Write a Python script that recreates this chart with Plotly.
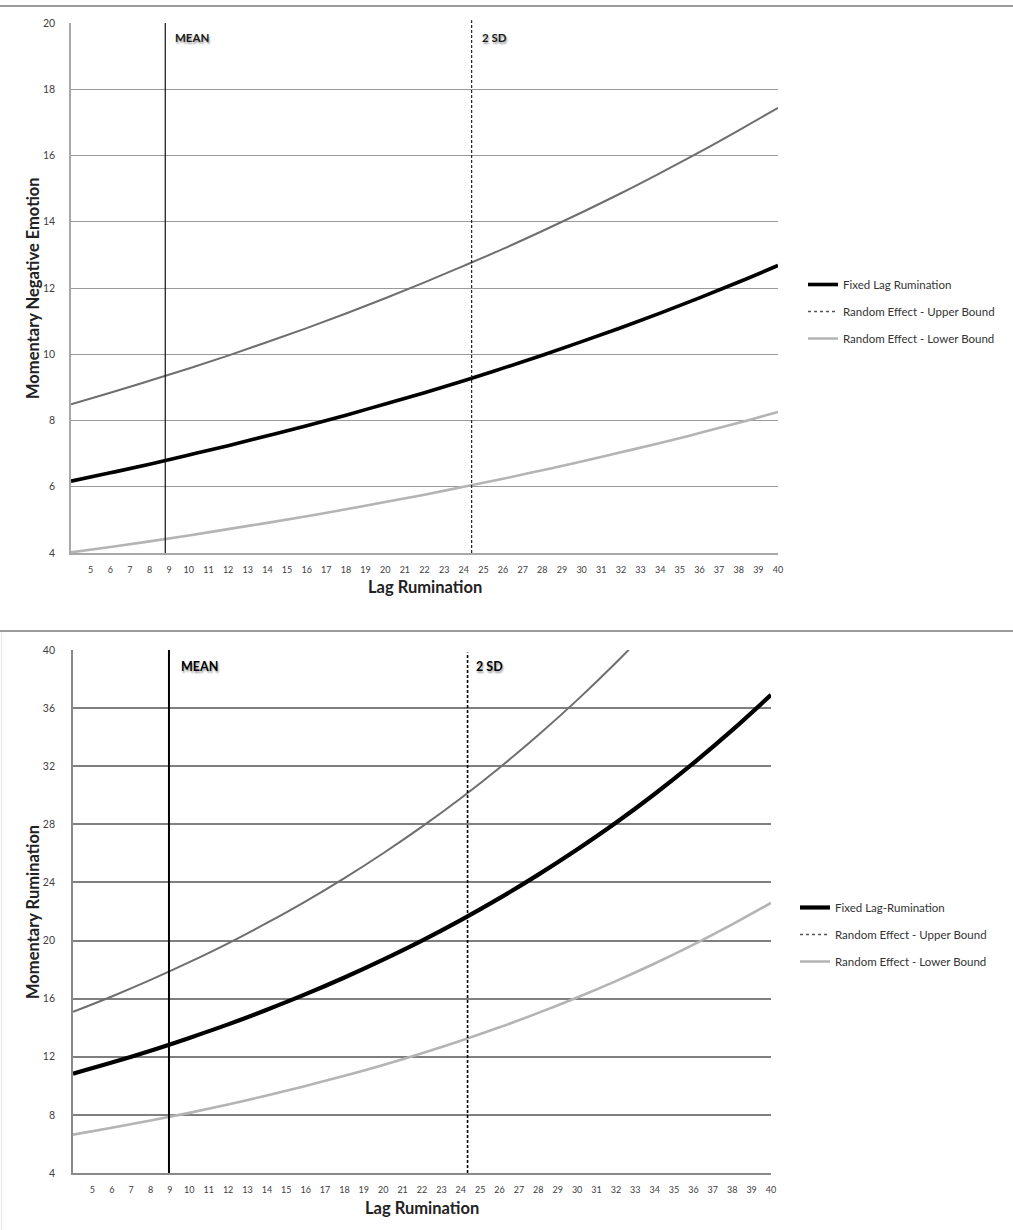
import plotly.graph_objects as go

# ---------------- data ----------------
lag_rumination = [4, 6, 8, 10, 12, 14, 16, 18, 20, 22, 24, 26, 28, 30, 32, 34, 36, 38, 40]

# Panel 1: Momentary Negative Emotion
neg_fixed = [6.17, 6.42, 6.68, 6.96, 7.24, 7.54, 7.84, 8.16, 8.50, 8.84, 9.20,
             9.58, 9.97, 10.38, 10.80, 11.24, 11.70, 12.18, 12.68]
neg_upper = [8.49, 8.84, 9.20, 9.57, 9.96, 10.37, 10.79, 11.23, 11.69, 12.17, 12.67,
             13.18, 13.72, 14.28, 14.86, 15.47, 16.10, 16.76, 17.44]
neg_lower = [4.02, 4.18, 4.35, 4.53, 4.72, 4.91, 5.11, 5.32, 5.54, 5.76, 6.00,
             6.24, 6.50, 6.76, 7.04, 7.32, 7.62, 7.93, 8.26]

# Panel 2: Momentary Rumination
rum_fixed = [10.84, 11.60, 12.42, 13.30, 14.23, 15.24, 16.31, 17.46, 18.69, 20.00, 21.41,
             22.92, 24.54, 26.27, 28.11, 30.09, 32.21, 34.48, 36.91]
rum_upper = [15.09, 16.15, 17.29, 18.51, 19.81, 21.21, 22.70, 24.30, 26.01, 27.84, 29.80,
             31.90, 34.15, 36.55, 39.12, 41.88, 44.82, 47.98, 51.36]
rum_lower = [6.64, 7.11, 7.61, 8.14, 8.72, 9.33, 9.99, 10.69, 11.44, 12.25, 13.11,
             14.03, 15.02, 16.08, 17.21, 18.42, 19.72, 21.11, 22.59]

x_tick_labels = list(range(5, 41))
y1_ticks = [4, 6, 8, 10, 12, 14, 16, 18, 20]
y2_ticks = [4, 8, 12, 16, 20, 24, 28, 32, 36, 40]

mean_x_top, sd2_x_top = 8.8, 24.4
mean_x_bot, sd2_x_bot = 8.95, 24.35

legend_names_top = ["Fixed Lag Rumination", "Random Effect - Upper Bound", "Random Effect - Lower Bound"]
legend_names_bot = ["Fixed Lag-Rumination", "Random Effect - Upper Bound", "Random Effect - Lower Bound"]

# ---------------- styling ----------------
W, H = 1013, 1230
FONT = "Lato"
BLACK = "#000000"
UPPER_C = "#6e6e6e"
LOWER_C = "#b4b4b4"
GRID_TOP = "#9a9a9a"
GRID_BOT = "#7f7f7f"

fig = go.Figure()

def add_panel(xa, ya, fixed, upper, lower, names, legend, wfixed):
    fig.add_trace(go.Scatter(x=lag_rumination, y=upper, mode="lines", xaxis=xa, yaxis=ya,
                             line=dict(color=UPPER_C, width=2, shape="spline"),
                             showlegend=False, hoverinfo="skip"))
    fig.add_trace(go.Scatter(x=lag_rumination, y=lower, mode="lines", xaxis=xa, yaxis=ya,
                             line=dict(color=LOWER_C, width=2.6, shape="spline"),
                             showlegend=False, hoverinfo="skip"))
    fig.add_trace(go.Scatter(x=lag_rumination, y=fixed, mode="lines", xaxis=xa, yaxis=ya,
                             line=dict(color=BLACK, width=wfixed, shape="spline"),
                             showlegend=False, hoverinfo="skip"))
    # legend entries
    fig.add_trace(go.Scatter(x=[None], y=[None], mode="lines", xaxis=xa, yaxis=ya, name=names[0],
                             line=dict(color=BLACK, width=wfixed), legend=legend, legendgroup=legend + "a"))
    fig.add_trace(go.Scatter(x=[None], y=[None], mode="lines", xaxis=xa, yaxis=ya, name=names[1],
                             line=dict(color="#555555", width=1.5, dash="dot"), legend=legend, legendgroup=legend + "b"))
    fig.add_trace(go.Scatter(x=[None], y=[None], mode="lines", xaxis=xa, yaxis=ya, name=names[2],
                             line=dict(color=LOWER_C, width=2.5), legend=legend, legendgroup=legend + "c"))

add_panel("x", "y", neg_fixed, neg_upper, neg_lower, legend_names_top, "legend", 3.6)
add_panel("x2", "y2", rum_fixed, rum_upper, rum_lower, legend_names_bot, "legend2", 4.2)

def px_x(p):
    return p / W

def px_y(p):
    return 1 - p / H

xaxis_common = dict(range=[4, 40], tickmode="array", tickvals=x_tick_labels,
                    ticktext=[str(v) for v in x_tick_labels], showgrid=False, zeroline=False,
                    ticks="", tickfont=dict(family=FONT, size=9, color="#404040"),
                    ticklabelstandoff=7, showline=True, mirror=False, fixedrange=True,
                    automargin=False)

legend_common = dict(xanchor="left", yanchor="top", bgcolor="rgba(0,0,0,0)",
                     font=dict(family=FONT, size=11.5, color="#333333"), tracegroupgap=8,
                     itemwidth=30)

fig.update_layout(
    width=W, height=H, margin=dict(l=0, r=0, t=0, b=0, autoexpand=False),
    paper_bgcolor="white", plot_bgcolor="white",
    font=dict(family=FONT, color="#222222"),
    xaxis=dict(**xaxis_common, domain=[px_x(71), px_x(778)], anchor="y",
               linecolor="#a8a8a8", linewidth=1.5),
    yaxis=dict(range=[4, 20], tickvals=y1_ticks, domain=[px_y(553), px_y(23)], anchor="x",
               showgrid=True, gridcolor=GRID_TOP, gridwidth=1.3, zeroline=False, ticks="",
               showline=True, linecolor="#a8a8a8", linewidth=1.5, automargin=False,
               tickfont=dict(family=FONT, size=10.5, color="#404040"), ticklabelstandoff=12),
    xaxis2=dict(**xaxis_common, domain=[px_x(73), px_x(771)], anchor="y2",
                linecolor="#8a8a8a", linewidth=1.8),
    yaxis2=dict(range=[4, 40], tickvals=y2_ticks, domain=[px_y(1173), px_y(650)], anchor="x2",
                showgrid=True, gridcolor=GRID_BOT, gridwidth=1.6, zeroline=False, ticks="",
                showline=True, linecolor="#8a8a8a", linewidth=1.8, automargin=False,
                tickfont=dict(family=FONT, size=10.5, color="#404040"), ticklabelstandoff=14),
    legend=dict(x=px_x(803), y=px_y(270), **legend_common),
    legend2=dict(x=px_x(795), y=px_y(893), **legend_common),
)

shapes = []
# separators
shapes.append(dict(type="line", xref="paper", yref="paper", x0=0, x1=1, y0=px_y(6), y1=px_y(6),
                   line=dict(color="#7a7a7a", width=1.5)))
shapes.append(dict(type="line", xref="paper", yref="paper", x0=0, x1=1, y0=px_y(631), y1=px_y(631),
                   line=dict(color="#7a7a7a", width=1.5)))
shapes.append(dict(type="line", xref="paper", yref="paper", x0=px_x(1.5), x1=px_x(1.5), y0=0, y1=px_y(632),
                   line=dict(color="#e6e6e6", width=1)))
# mean / 2 SD lines
shapes.append(dict(type="line", xref="x", yref="y domain", x0=mean_x_top, x1=mean_x_top, y0=0, y1=1,
                   line=dict(color="#111111", width=1.2)))
shapes.append(dict(type="line", xref="x", yref="y domain", x0=sd2_x_top, x1=sd2_x_top, y0=0, y1=1.005,
                   line=dict(color="#222222", width=1.2, dash="3px,2px")))
shapes.append(dict(type="line", xref="x2", yref="y2 domain", x0=mean_x_bot, x1=mean_x_bot, y0=0, y1=1,
                   line=dict(color="#000000", width=2)))
shapes.append(dict(type="line", xref="x2", yref="y2 domain", x0=sd2_x_bot, x1=sd2_x_bot, y0=0, y1=0.995,
                   line=dict(color="#000000", width=1.6, dash="3px,2px")))
fig.update_layout(shapes=shapes)

lab_font = dict(family=FONT, size=11.5, color="#1a1a1a", weight="bold", shadow="1px 2px 2px #9a9a9a")
title_font = dict(family=FONT, size=16.5, color="#222222")
annotations = [
    dict(text="MEAN", xref="x", yref="y domain", x=mean_x_top, y=0.972, xanchor="left", yanchor="middle",
         xshift=8, showarrow=False, font=lab_font),
    dict(text="2 SD", xref="x", yref="y domain", x=sd2_x_top, y=0.972, xanchor="left", yanchor="middle",
         xshift=8, showarrow=False, font=lab_font),
    dict(text="MEAN", xref="x2", yref="y2 domain", x=mean_x_bot, y=0.969, xanchor="left", yanchor="middle",
         xshift=10, showarrow=False, font=dict(lab_font, size=12.5, color="#000000")),
    dict(text="2 SD", xref="x2", yref="y2 domain", x=sd2_x_bot, y=0.969, xanchor="left", yanchor="middle",
         xshift=6, showarrow=False, font=dict(lab_font, size=12.5, color="#000000")),
    # axis titles
    dict(text="<b>Momentary Negative Emotion</b>", xref="paper", yref="paper", x=px_x(33), y=px_y(288),
         xanchor="center", yanchor="middle", textangle=-90, showarrow=False, font=title_font),
    dict(text="<b>Lag Rumination</b>", xref="paper", yref="paper", x=px_x(425), y=px_y(587),
         xanchor="center", yanchor="middle", showarrow=False, font=title_font),
    dict(text="<b>Momentary Rumination</b>", xref="paper", yref="paper", x=px_x(33), y=px_y(912),
         xanchor="center", yanchor="middle", textangle=-90, showarrow=False, font=title_font),
    dict(text="<b>Lag Rumination</b>", xref="paper", yref="paper", x=px_x(422), y=px_y(1208),
         xanchor="center", yanchor="middle", showarrow=False, font=title_font),
]
fig.update_layout(annotations=annotations)

fig.write_html("out.html", config={"displayModeBar": False},
               post_script="document.body.style.margin='0';document.body.style.padding='0';")
